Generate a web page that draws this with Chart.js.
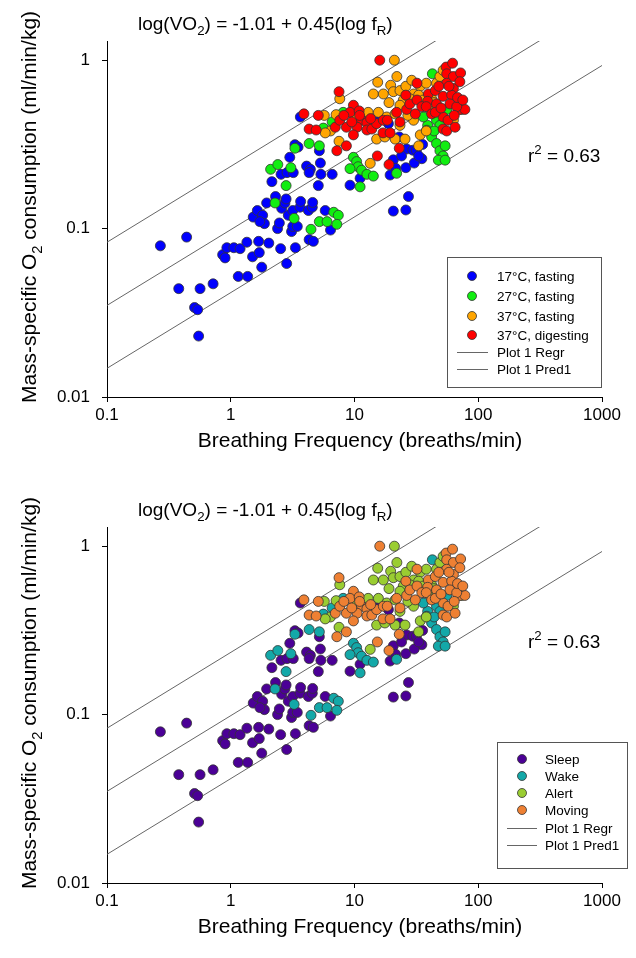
<!DOCTYPE html>
<html>
<head>
<meta charset="utf-8">
<script src="https://cdn.jsdelivr.net/npm/chart.js@4.4.1/dist/chart.umd.min.js"></script>
<style>
  html, body { margin: 0; padding: 0; background: #fff; }
  body { width: 636px; height: 958px; position: relative; overflow: hidden; }
  canvas { position: absolute; left: 0; }
  #top { top: 0; }
  #bottom { top: 486px; }
</style>
</head>
<body>
<canvas id="top" width="636" height="472"></canvas>
<canvas id="bottom" width="636" height="472"></canvas>
<script>
// axis ticks
const xTicks = [0.1, 1, 10, 100, 1000];
const yTicks = [0.01, 0.1, 1];

const tempLabels = ['17°C, fasting', '27°C, fasting', '37°C, fasting', '37°C, digesting'];
const stateLabels = ['Sleep', 'Wake', 'Alert', 'Moving'];
const lineLabels = ['Plot 1 Regr', 'Plot 1 Pred1'];

// [breathing frequency, VO2]
const fasting17 = [
  [0.27,0.079],[0.44,0.089],[0.38,0.044],[0.565,0.044],[0.72,0.047],[0.51,0.034],[0.54,0.033],[0.55,0.023],
  [0.86,0.070],[0.90,0.067],[0.93,0.077],[1.06,0.077],[1.19,0.076],[1.35,0.083],[1.15,0.052],[1.37,0.052],
  [1.50,0.068],[1.70,0.072],[1.68,0.084],[1.78,0.059],[2.03,0.082],[2.53,0.076],[2.83,0.062],[3.33,0.077],
  [4.3,0.086],[4.65,0.084],[6.4,0.098],[1.52,0.117],[1.64,0.128],[1.81,0.12],[1.87,0.107],[1.72,0.110],
  [2.39,0.100],[2.47,0.108],[1.95,0.142],[2.58,0.132],[2.92,0.12],[3.17,0.128],[3.1,0.096],[3.17,0.103],
  [3.45,0.103],[3.63,0.134],[4.24,0.128],[4.56,0.134],[2.74,0.142],[3.67,0.145],[4.59,0.143],[5.8,0.128],
  [3.65,0.46],[3.3,0.315],[3.5,0.305],[3.0,0.265],[4.1,0.235],[4.4,0.225],[4.3,0.215],[5.2,0.29],
  [5.3,0.245],[5.35,0.21],[6.6,0.21],[2.15,0.19],[2.55,0.21],[2.85,0.215],[3.2,0.215],[2.3,0.155],[2.8,0.15],
  [9.2,0.181],[11.1,0.199],[19.4,0.208],[20.6,0.256],[21.5,0.228],[26,0.23],[26.4,0.297],[29.6,0.292],
  [31.6,0.292],[35.5,0.316],[35,0.26],[30.4,0.245],[23,0.35],[18.8,0.42],[16.1,0.445],[27.3,0.155],
  [26,0.129],[20.6,0.127],[5.1,0.18],[24,0.27],[33,0.27]
];
const fasting27 = [
  [2.28,0.142],[3.25,0.115],[4.45,0.099],[5.2,0.110],[6.0,0.110],[6.8,0.125],[7.4,0.12],[7.2,0.106],
  [4.3,0.32],[5.2,0.31],[5.6,0.395],[6.6,0.43],[3.3,0.30],[2.1,0.225],[2.4,0.24],[3.06,0.23],[2.8,0.18],
  [42.6,0.83],[8.1,0.49],[9.8,0.265],[10.4,0.25],[10.7,0.233],[11.4,0.222],[12.6,0.21],[14.2,0.205],
  [11.1,0.177],[9.2,0.227],[21.9,0.213],[39,0.41],[46,0.44],[49,0.41],[38.4,0.384],[42,0.35],[46,0.32],
  [49,0.29],[54,0.31],[52,0.27],[47.6,0.255],[54,0.255],[55.6,0.51],[36,0.46],[44,0.38]
];
const fasting37 = [
  [7.6,0.59],[5.7,0.47],[6.4,0.38],[7.1,0.475],[7.5,0.33],[5.8,0.37],
  [21,1.0],[22,0.80],[15.4,0.74],[19.6,0.71],[14.2,0.63],[17.1,0.63],[20.6,0.65],[23.3,0.66],[24.8,0.58],
  [30,0.63],[28,0.59],[34,0.70],[38,0.73],[46,0.73],[49,0.80],[52,0.87],[10.1,0.45],[12.9,0.49],
  [15.6,0.49],[18.2,0.46],[21.3,0.48],[23.3,0.41],[30,0.44],[15.1,0.34],[17.6,0.35],[21.3,0.34],
  [25.6,0.34],[34,0.36],[38,0.38],[33,0.31],[13.4,0.244],[63,0.44],[71,0.57],[73.5,0.51],[23.3,0.54],[42,0.59],
  [27,0.47],[40,0.52],[44,0.56],[33,0.62],[26,0.70],[29,0.76],[36,0.58],[19,0.56]
];
const digesting37 = [
  [7.5,0.65],[3.9,0.48],[5.1,0.47],[4.3,0.39],[4.9,0.385],[7.2,0.29],[7.0,0.40],
  [16,1.0],[9.8,0.54],[9.2,0.49],[10.9,0.50],[11.4,0.44],[12.6,0.425],[10.5,0.40],[8.6,0.40],[7.6,0.44],
  [8.6,0.31],[9.8,0.36],[12.6,0.385],[13.8,0.39],[15.1,0.42],[17.1,0.44],[18.4,0.44],[21.9,0.49],
  [23.3,0.43],[26.4,0.51],[26,0.62],[32,0.73],[39.5,0.63],[39,0.57],[45,0.66],[46,0.55],[52,0.61],
  [55,0.91],[62,0.96],[55.6,0.83],[63,0.80],[72,0.84],[55.6,0.73],[63,0.68],[71,0.745],[61,0.62],
  [59,0.55],[71,0.51],[78,0.51],[67,0.53],[52,0.46],[57,0.44],[52,0.39],[55.6,0.38],[65,0.40],[64,0.47],
  [15.3,0.27],[19,0.24],[23,0.30],[17,0.37],[19.4,0.37],[28,0.55],[32,0.58],[35,0.53],[31,0.48],
  [38,0.53],[42,0.48],[45,0.49],[11,0.47],[13.5,0.45],[8.2,0.47],[9.5,0.43],[48,0.70],[58,0.70],
  [68,0.60],[75,0.58],[50,0.52]
];
const groups = [fasting17, fasting27, fasting37, digesting37];

// regression line and prediction band end points
const regrLine = [[0.1, 0.035], [1000, 2.2]];
const predUpper = [[0.1, 0.083], [1000, 5.25]];
const predLower = [[0.1, 0.0148], [1000, 0.93]];

const FONT = '"Liberation Sans", Arial, Helvetica, sans-serif';

const titleParts = [{t: 'log(VO'}, {t: '2', s: 'sub'}, {t: ') = -1.01 + 0.45(log f'}, {t: 'R', s: 'sub'}, {t: ')'}];
const r2Parts = [{t: 'r'}, {t: '2', s: 'sup'}, {t: ' = 0.63'}];
const yTitleParts = [{t: 'Mass-specific O'}, {t: '2', s: 'sub'}, {t: ' consumption (ml/min/kg)'}];
const xTitle = 'Breathing Frequency (breaths/min)';

function richWidth(ctx, parts, size) {
  let w = 0;
  parts.forEach(p => {
    ctx.font = (p.s ? size * 0.7 : size) + 'px ' + FONT;
    w += ctx.measureText(p.t).width;
  });
  return w;
}

function drawRich(ctx, parts, x, y, size) {
  let cx = x;
  parts.forEach(p => {
    ctx.font = (p.s ? size * 0.7 : size) + 'px ' + FONT;
    let dy = 0;
    if (p.s === 'sub') dy = size * 0.28;
    if (p.s === 'sup') dy = -size * 0.42;
    ctx.fillText(p.t, cx, y + dy);
    cx += ctx.measureText(p.t).width;
  });
}

const panelText = {
  id: 'panelText',
  afterDraw(chart) {
    const ctx = chart.ctx;
    ctx.save();
    ctx.fillStyle = '#000';
    ctx.textAlign = 'left';
    ctx.textBaseline = 'alphabetic';
    drawRich(ctx, titleParts, 138, 30, 19);
    drawRich(ctx, r2Parts, 528, 162, 19);

    ctx.font = '21px ' + FONT;
    const xw = ctx.measureText(xTitle).width;
    ctx.fillText(xTitle, 360 - xw / 2, 447);

    ctx.translate(36, 207);
    ctx.rotate(-Math.PI / 2);
    const yw = richWidth(ctx, yTitleParts, 21);
    drawRich(ctx, yTitleParts, -yw / 2, 0, 21);
    ctx.restore();
  }
};

const boxLegend = {
  id: 'boxLegend',
  afterDraw(chart, args, o) {
    const ctx = chart.ctx;
    ctx.save();
    ctx.fillStyle = '#fff';
    ctx.fillRect(o.left, o.top, o.right - o.left, o.bottom - o.top);
    ctx.strokeStyle = '#555';
    ctx.lineWidth = 1;
    ctx.strokeRect(o.left + 0.5, o.top + 0.5, o.right - o.left, o.bottom - o.top);
    ctx.font = o.fontSize + 'px ' + FONT;
    ctx.textBaseline = 'middle';
    ctx.textAlign = 'left';
    let row = 0;
    chart.data.datasets.forEach(ds => {
      if (ds.noLegend) return;
      const y = o.rows[row++];
      if (ds.showLine) {
        ctx.strokeStyle = ds.borderColor;
        ctx.lineWidth = 1;
        ctx.beginPath();
        ctx.moveTo(o.lineX1, y + 0.5);
        ctx.lineTo(o.lineX2, y + 0.5);
        ctx.stroke();
      } else {
        ctx.beginPath();
        ctx.arc(o.markerX, y, 4.5, 0, Math.PI * 2);
        ctx.fillStyle = ds.backgroundColor;
        ctx.fill();
        ctx.strokeStyle = ds.borderColor;
        ctx.lineWidth = 0.8;
        ctx.stroke();
      }
      ctx.fillStyle = '#000';
      ctx.fillText(ds.label, o.textX, y + 1);
    });
    ctx.restore();
  }
};

function lineSet(label, pts, noLegend) {
  return {
    label: label,
    data: pts.map(p => ({x: p[0], y: p[1]})),
    showLine: true,
    borderColor: '#666',
    borderWidth: 1,
    pointRadius: 0,
    order: 20,
    noLegend: noLegend
  };
}

function makeChart(id, labels, colors, legendOpts) {
  const datasets = groups.map((g, i) => ({
    label: labels[i],
    data: g.map(p => ({x: p[0], y: p[1]})),
    backgroundColor: colors[i],
    borderColor: '#333',
    borderWidth: 0.8,
    pointRadius: 5,
    pointHoverRadius: 5,
    order: 10 - i
  }));
  datasets.push(lineSet(lineLabels[0], regrLine, false));
  datasets.push(lineSet(lineLabels[1], predUpper, false));
  datasets.push(lineSet(lineLabels[1], predLower, true));

  return new Chart(document.getElementById(id), {
    type: 'scatter',
    data: { datasets: datasets },
    plugins: [panelText, boxLegend],
    options: {
      responsive: false,
      animation: false,
      devicePixelRatio: 1,
      layout: { padding: { left: 0, right: 34, top: 41, bottom: 0 } },
      plugins: {
        legend: { display: false },
        tooltip: { enabled: false },
        boxLegend: legendOpts
      },
      scales: {
        x: {
          type: 'logarithmic',
          min: 0.1,
          max: 1000,
          afterBuildTicks: s => { s.ticks = xTicks.map(v => ({value: v})); },
          afterFit: s => { s.height = 75; },
          ticks: {
            callback: v => String(v),
            autoSkip: false,
            maxRotation: 0,
            padding: 3,
            color: '#000',
            font: { family: FONT, size: 17 }
          },
          grid: { drawOnChartArea: false, drawTicks: true, tickLength: 5, color: '#000' },
          border: { color: '#000', width: 1 }
        },
        y: {
          type: 'logarithmic',
          min: 0.01,
          max: 1.3,
          afterBuildTicks: s => { s.ticks = yTicks.map(v => ({value: v})); },
          afterFit: s => { s.width = 107; },
          ticks: {
            callback: v => String(v),
            autoSkip: false,
            padding: 12,
            color: '#000',
            font: { family: FONT, size: 17 }
          },
          grid: { drawOnChartArea: false, drawTicks: true, tickLength: 5, color: '#000' },
          border: { color: '#000', width: 1 }
        }
      }
    }
  });
}

makeChart('top', tempLabels, ['#0000FF', '#11EE11', '#FFA500', '#FF0000'], {
  left: 447, top: 257, right: 601, bottom: 387,
  rows: [276, 296, 316, 335, 352, 369],
  markerX: 472, lineX1: 457, lineX2: 488, textX: 497, fontSize: 13.5
});

makeChart('bottom', stateLabels, ['#4B0096', '#13A8A8', '#9ACD32', '#EE8033'], {
  left: 497, top: 256, right: 627, bottom: 382,
  rows: [273, 290, 307, 324, 342, 359],
  markerX: 522, lineX1: 507, lineX2: 537, textX: 545, fontSize: 13.5
});
</script>
</body>
</html>
